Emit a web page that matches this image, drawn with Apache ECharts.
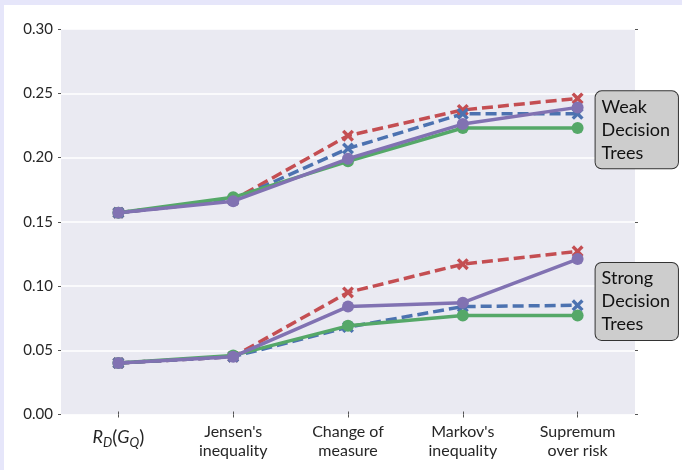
<!DOCTYPE html>
<html>
<head>
<meta charset="utf-8">
<script src="https://cdn.jsdelivr.net/npm/echarts@6/dist/echarts.min.js"></script>
<style>
  html, body { margin: 0; padding: 0; background: #e6e6fa; }
  #chart { position: absolute; left: 4px; top: 5px; width: 678px; height: 465px; background: #fff; }
</style>
</head>
<body>
<div id="chart"></div>
<script>
// categories (x axis)
var categories = ['R_D(G_Q)', "Jensen's\ninequality", 'Change of\nmeasure', "Markov's\ninequality", 'Supremum\nover risk'];
var yTicks = [0, 0.05, 0.10, 0.15, 0.20, 0.25, 0.30];

// weak decision trees
var weakGreen  = [0.157, 0.169, 0.197, 0.223, 0.223];
var weakPurple = [0.157, 0.166, 0.199, 0.226, 0.239];
var weakRed    = [0.157, 0.167, 0.217, 0.237, 0.246];
var weakBlue   = [0.157, 0.167, 0.207, 0.234, 0.234];

// strong decision trees
var strongGreen  = [0.040, 0.046, 0.069, 0.077, 0.077];
var strongPurple = [0.040, 0.045, 0.084, 0.087, 0.121];
var strongRed    = [0.040, 0.045, 0.095, 0.117, 0.127];
var strongBlue   = [0.040, 0.045, 0.068, 0.084, 0.085];

// box labels and the value they sit at
var groupLabels = ['Weak\nDecision\nTrees', 'Strong\nDecision\nTrees'];
var groupLabelY = [0.2215, 0.088];

var FONT = 'Lato';
var GREEN = '#55a868', PURPLE = '#8172b2', RED = '#c44e52', BLUE = '#4c72b0';
var CROSS = 'path://M2,0 L5,3 L8,0 L10,2 L7,5 L10,8 L8,10 L5,7 L2,10 L0,8 L3,5 L0,2 Z';

function dashed(name, data, color) {
	return {
		name: name, type: 'line', data: data, z: 2,
		symbol: CROSS, symbolSize: 12,
		itemStyle: { color: color },
		lineStyle: { color: color, width: 3.5, type: [11, 5] }
	};
}
function solid(name, data, color, z) {
	return {
		name: name, type: 'line', data: data, z: z,
		symbol: 'circle', symbolSize: 12,
		itemStyle: { color: color },
		lineStyle: { color: color, width: 3.5 }
	};
}

var myChart = echarts.init(document.getElementById('chart'), null, { renderer: 'canvas' });
var tickStyle = { show: true, length: 3, lineStyle: { color: '#555', width: 1 } };

var option = {
	animation: false,
	textStyle: { fontFamily: FONT },
	grid: {
		left: 57, right: 47, top: 24, bottom: 55.5,
		show: true, backgroundColor: '#eaeaf2', borderWidth: 0
	},
	xAxis: [
		{
			type: 'category', data: categories, boundaryGap: true, position: 'bottom',
			axisLine: { show: false },
			axisTick: { show: true, length: 3, alignWithLabel: true, lineStyle: { color: '#555' } },
			axisLabel: {
				interval: 0, margin: 8, color: '#262626', fontSize: 16, lineHeight: 19, fontFamily: FONT,
				formatter: function (v) {
					if (v === 'R_D(G_Q)') {
						return '{i|R}{s|D}{n|(}{i|G}{s|Q}{n|)}';
					}
					return v;
				},
				rich: {
					i: { fontSize: 18, fontStyle: 'italic', fontFamily: FONT, color: '#262626', lineHeight: 30 },
					n: { fontSize: 19, fontFamily: FONT, color: '#262626', lineHeight: 30 },
					s: { fontSize: 13, fontStyle: 'italic', fontFamily: FONT, color: '#262626', lineHeight: 30, padding: [10, 0, 0, 0] }
				}
			},
			splitLine: { show: false }
		},
		{
			type: 'category', data: categories, boundaryGap: true, position: 'top',
			axisLine: { show: false },
			axisTick: { show: true, length: 3, alignWithLabel: true, lineStyle: { color: '#555' } },
			axisLabel: { show: false }
		}
	],
	yAxis: [
		{
			type: 'value', min: 0, max: 0.3, interval: 0.05, position: 'left',
			axisLine: { show: false },
			axisTick: tickStyle,
			axisLabel: {
				margin: 8, color: '#262626', fontSize: 15, fontFamily: FONT,
				formatter: function (v) { return v.toFixed(2); }
			},
			splitLine: { show: true, lineStyle: { color: '#ffffff', width: 1.5 } }
		},
		{
			type: 'value', min: 0, max: 0.3, interval: 0.05, position: 'right',
			axisLine: { show: false },
			axisTick: tickStyle,
			axisLabel: { show: false },
			splitLine: { show: false }
		}
	],
	series: [
		dashed('Weak red', weakRed, RED),
		dashed('Weak blue', weakBlue, BLUE),
		solid('Weak green', weakGreen, GREEN, 3),
		solid('Weak purple', weakPurple, PURPLE, 4),
		dashed('Strong red', strongRed, RED),
		dashed('Strong blue', strongBlue, BLUE),
		solid('Strong green', strongGreen, GREEN, 3),
		solid('Strong purple', strongPurple, PURPLE, 4)
	]
};
myChart.setOption(option);

// boxed group labels, placed next to the last category
var graphics = [];
for (var k = 0; k < groupLabels.length; k++) {
	var p = myChart.convertToPixel({ xAxisIndex: 0, yAxisIndex: 0 }, [categories.length - 1, groupLabelY[k]]);
	graphics.push({
		type: 'text',
		x: p[0] + 18,
		y: p[1],
		z: 10,
		style: {
			text: groupLabels[k],
			fontFamily: FONT,
			fontSize: 18,
			lineHeight: 23,
			fill: '#111',
			verticalAlign: 'middle',
			align: 'left',
			backgroundColor: '#cdcdcd',
			borderColor: '#333',
			borderWidth: 1,
			borderRadius: 6,
			padding: [4, 8, 4, 6]
		}
	});
}
myChart.setOption({ graphic: graphics });
</script>
</body>
</html>
